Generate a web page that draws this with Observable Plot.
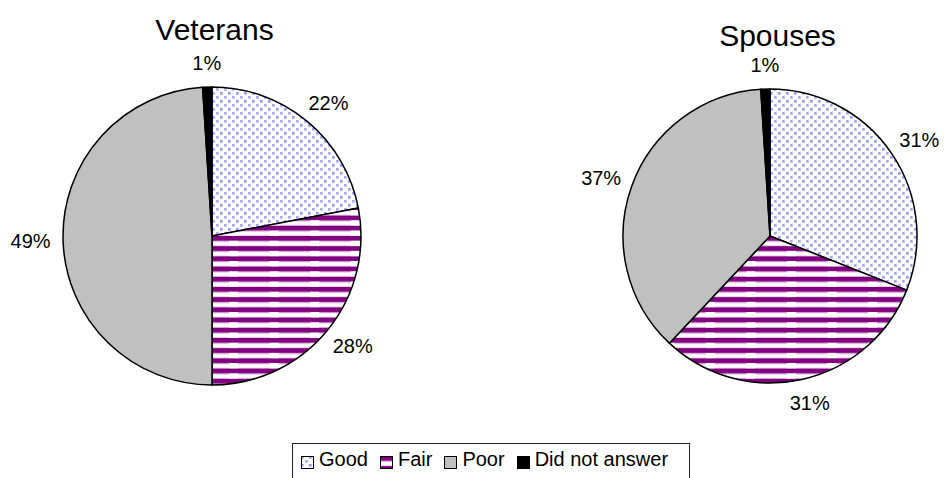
<!DOCTYPE html>
<html>
<head>
<meta charset="utf-8">
<script src="https://cdn.jsdelivr.net/npm/d3@7"></script>
<script src="https://cdn.jsdelivr.net/npm/@observablehq/plot@0.6"></script>
<style>
  body { margin: 0; background: #fff; font-family: "Liberation Sans", Arial, sans-serif; }
  #chart { width: 944px; height: 478px; position: relative; overflow: hidden; background: #fff; }
  .legend { position: absolute; left: 292px; top: 443px; width: 398px; height: 50px; box-sizing: border-box;
            border: 1px solid #222; padding: 4px 0 0 8px; display: flex; align-items: flex-start; gap: 12px;
            font-size: 20px; line-height: 22px; color: #000; }
  .item { display: flex; align-items: flex-start; gap: 5px; white-space: nowrap; }
  .item svg { margin-top: 8px; display: block; }
</style>
</head>
<body>
<svg width="0" height="0" style="position:absolute">
  <defs>
    <pattern id="good" patternUnits="userSpaceOnUse" width="8" height="8">
      <rect width="8" height="8" fill="#ffffff"/>
      <rect x="0" y="0" width="2.7" height="2.7" fill="#9999ff"/>
      <rect x="4" y="4" width="2.7" height="2.7" fill="#a8a8ff"/>
    </pattern>
    <pattern id="fair" patternUnits="userSpaceOnUse" width="40.6" height="10.2">
      <rect width="40.6" height="10.2" fill="#ffffff"/>
      <rect x="0" y="0" width="40.6" height="4.6" fill="#800080"/>
      <rect x="0" y="4.6" width="17" height="1.2" fill="#cc99cc"/>
      <rect x="0" y="9.2" width="17" height="1" fill="#e6cce6"/>
      <rect x="26" y="4.6" width="14.6" height="1.2" fill="#cc99cc"/>
      <rect x="26" y="9.2" width="14.6" height="1" fill="#e6cce6"/>
    </pattern>
  </defs>
</svg>
<div id="chart"></div>
<script>
// ---- data ----
const categories = ["Good", "Fair", "Poor", "Did not answer"];
const groups = ["Veterans", "Spouses"];
const veterans = [22, 28, 49, 1];
const spouses = [31, 31, 37, 1];

// ---- styles / layout ----
const fills = ["url(#good)", "url(#fair)", "#c0c0c0", "#000000"];
const W = 944, H = 440;
const layout = [
  {cx: 212, cy: 236, r: 149, tx: 214, ty: 30},
  {cx: 770, cy: 236, r: 147, tx: 777, ty: 35.5}
];
const labelGap = 15, halfW = 18, halfH = 9;

const seriesValues = [veterans, spouses];
const pie = d3.pie().sort(null).value(d => d);
const slices = groups.flatMap((g, gi) =>
  pie(seriesValues[gi]).map((a, i) => ({
    group: g, i, category: categories[i], value: a.value,
    startAngle: a.startAngle, endAngle: a.endAngle,
    mid: (a.startAngle + a.endAngle) / 2, ...layout[gi]
  }))
);
const labels = slices.map(s => ({
  text: s.value + "%",
  x: s.cx + (s.r + labelGap + halfW) * Math.sin(s.mid),
  y: s.cy - (s.r + labelGap + halfH) * Math.cos(s.mid)
}));
const titles = groups.map((g, gi) => ({text: g, x: layout[gi].tx, y: layout[gi].ty}));

function pieMark(index, scales) {
  const sx = scales && scales.x ? scales.x : (v => v);
  const sy = scales && scales.y ? scales.y : (v => v);
  const g = d3.create("svg:g");
  const arc = d3.arc();
  for (const s of slices) {
    const cx = sx(s.cx), cy = sy(s.cy), r = sx(s.cx + s.r) - sx(s.cx);
    g.append("path")
      .attr("transform", `translate(${cx},${cy})`)
      .attr("d", arc({innerRadius: 0, outerRadius: r, startAngle: s.startAngle, endAngle: s.endAngle}))
      .attr("fill", fills[s.i])
      .attr("stroke", "#000")
      .attr("stroke-width", 1.5)
      .attr("stroke-linejoin", "round");
  }
  return g.node();
}

const plot = Plot.plot({
  width: W, height: H, margin: 0,
  style: {fontFamily: '"Liberation Sans", Arial, sans-serif', background: "#fff", color: "#000"},
  x: {domain: [0, W], range: [0, W], axis: null},
  y: {domain: [0, H], range: [0, H], axis: null},
  marks: [
    pieMark,
    Plot.text(labels, {x: "x", y: "y", text: "text", fontSize: 20, fill: "#000", lineAnchor: "middle"}),
    Plot.text(titles, {x: "x", y: "y", text: "text", fontSize: 30, fill: "#000", lineAnchor: "middle"})
  ]
});
const chart = document.getElementById("chart");
chart.appendChild(plot);

// legend
const legend = document.createElement("div");
legend.className = "legend";
categories.forEach((c, i) => {
  const item = document.createElement("div");
  item.className = "item";
  item.innerHTML = `<svg width="13" height="13"><rect x="0.5" y="0.5" width="12" height="12" fill="${fills[i]}" stroke="#000"/></svg><span>${c}</span>`;
  legend.appendChild(item);
});
chart.appendChild(legend);
</script>
</body>
</html>
